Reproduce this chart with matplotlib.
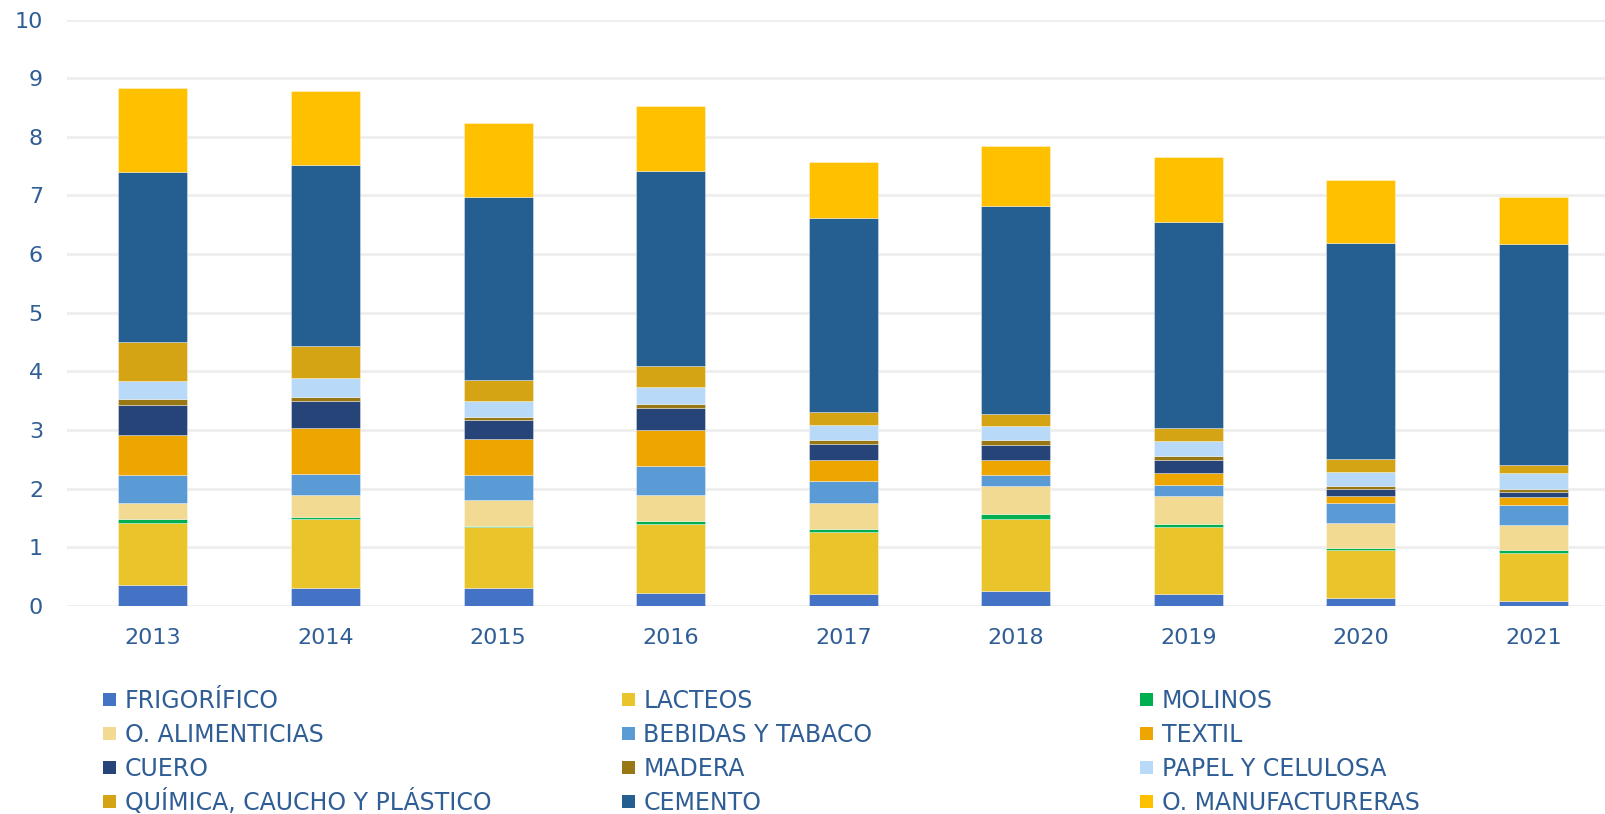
import matplotlib
matplotlib.use("Agg")
import matplotlib.pyplot as plt
from matplotlib.patches import Rectangle
import numpy as np

years = ["2013", "2014", "2015", "2016", "2017", "2018", "2019", "2020", "2021"]
frigorifico = [0.35, 0.30, 0.30, 0.23, 0.20, 0.25, 0.21, 0.14, 0.09]
lacteos = [1.07, 1.19, 1.04, 1.17, 1.06, 1.24, 1.14, 0.81, 0.81]
molinos = [0.07, 0.02, 0.03, 0.05, 0.05, 0.08, 0.05, 0.04, 0.05]
o_alimenticias = [0.27, 0.38, 0.43, 0.45, 0.45, 0.47, 0.47, 0.43, 0.43]
bebidas_tabaco = [0.48, 0.36, 0.43, 0.48, 0.38, 0.19, 0.19, 0.34, 0.35]
textil = [0.68, 0.78, 0.62, 0.62, 0.35, 0.26, 0.21, 0.11, 0.13]
cuero = [0.51, 0.46, 0.33, 0.37, 0.27, 0.25, 0.22, 0.13, 0.09]
madera = [0.10, 0.07, 0.05, 0.07, 0.07, 0.09, 0.07, 0.05, 0.05]
papel_celulosa = [0.31, 0.33, 0.26, 0.29, 0.26, 0.24, 0.26, 0.24, 0.26]
quimica = [0.67, 0.55, 0.36, 0.36, 0.22, 0.21, 0.21, 0.21, 0.14]
cemento = [2.89, 3.08, 3.13, 3.32, 3.30, 3.54, 3.51, 3.69, 3.78]
o_manufactureras = [1.43, 1.26, 1.26, 1.12, 0.96, 1.03, 1.12, 1.08, 0.80]

series = [
    ("FRIGORÍFICO", frigorifico, "#4472C4"),
    ("LACTEOS", lacteos, "#EAC42B"),
    ("MOLINOS", molinos, "#00B050"),
    ("O. ALIMENTICIAS", o_alimenticias, "#F3DA92"),
    ("BEBIDAS Y TABACO", bebidas_tabaco, "#5B9BD5"),
    ("TEXTIL", textil, "#EDA500"),
    ("CUERO", cuero, "#264478"),
    ("MADERA", madera, "#977814"),
    ("PAPEL Y CELULOSA", papel_celulosa, "#B8D9F8"),
    ("QUÍMICA, CAUCHO Y PLÁSTICO", quimica, "#D4A415"),
    ("CEMENTO", cemento, "#255E91"),
    ("O. MANUFACTURERAS", o_manufactureras, "#FFC000"),
]

text_color = "#2F5D95"
plt.rcParams['font.family'] = ['DejaVu Sans']

W, H = 1606, 814
fig = plt.figure(figsize=(W / 100, H / 100), dpi=100)
ax = fig.add_axes([0.0415, 0.2555, 1 - 0.0415, 0.976 - 0.2555])

x = np.arange(len(years))
bottom = np.zeros(len(years))
for name, vals, col in series:
    v = np.array(vals)
    ax.bar(x, v, 0.40, bottom=bottom, color=col, label=name,
           edgecolor=(1, 1, 1, 0.5), linewidth=0.5, zorder=3)
    bottom += v

ax.set_ylim(0, 10)
ax.set_xlim(-0.5, 8.42)
ax.set_yticks(range(0, 11))
ax.set_xticks(x)
ax.set_xticklabels(years)
ax.yaxis.grid(True, color="#EEEEEE", linewidth=2, zorder=0)
ax.set_axisbelow(True)
for s in ax.spines.values():
    s.set_visible(False)
ax.tick_params(axis="both", length=0, labelsize=16, labelcolor=text_color)
ax.tick_params(axis="x", pad=16)
ax.tick_params(axis="y", pad=17)

# Legend: 3 columns x 4 rows, row-major order
fs = 17
cap = 0.73 * fs * 100 / 72
col_x = [103.3, 621.7, 1140.0]
row_y = [699.0, 733.0, 767.0, 801.0]
msize = 13
for i, (name, vals, col) in enumerate(series):
    r, c = divmod(i, 3)
    mx, my = col_x[c], row_y[r]
    fig.patches.append(Rectangle((mx / W, 1 - (my + msize / 2) / H), msize / W, msize / H,
                                 transform=fig.transFigure, facecolor=col,
                                 edgecolor="none", figure=fig))
    fig.text((mx + 21.7) / W, 1 - (my + cap / 2) / H, name, fontsize=fs,
             color=text_color, ha="left", va="baseline")

fig.savefig("out.png", dpi=100)
